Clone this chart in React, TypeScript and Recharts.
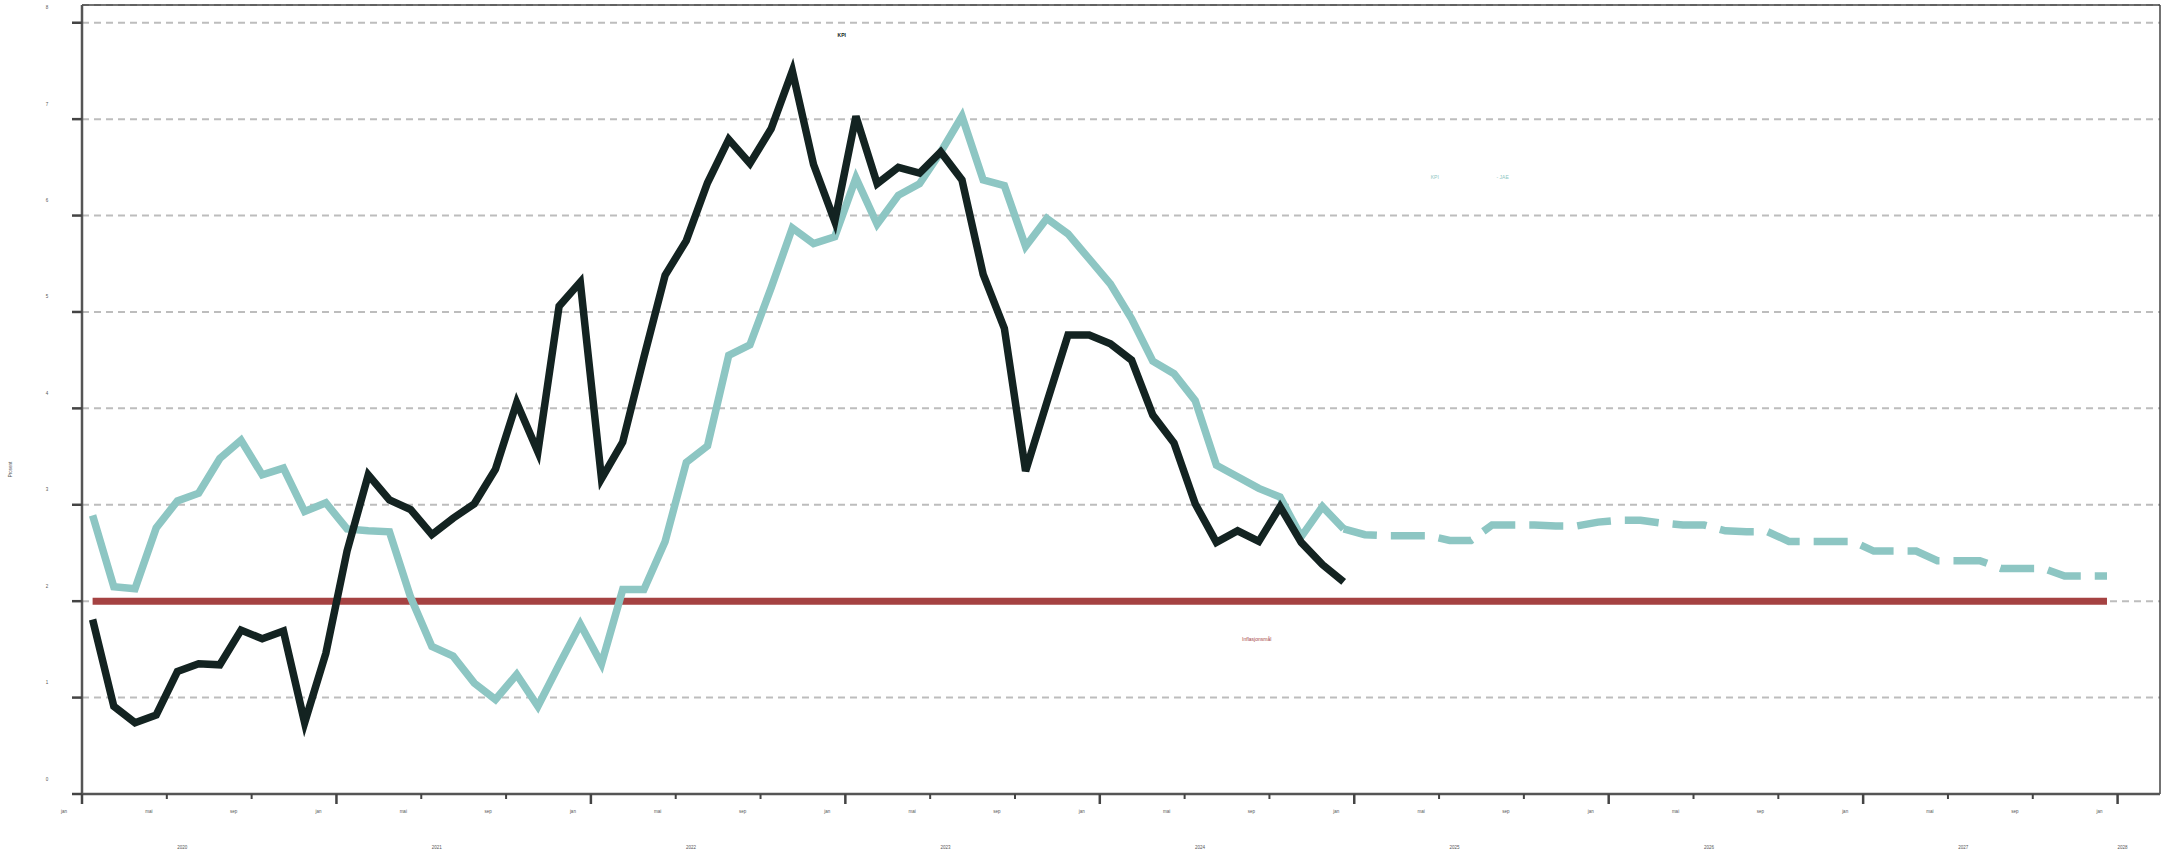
import { LineChart, Line, XAxis, YAxis, CartesianGrid, ReferenceLine, ReferenceDot } from "recharts";

// KPI og KPI-JAE, tolvmånedersvekst, jan 2020 – des 2024
const kpi = [
  1.81, 0.91, 0.74, 0.82, 1.27, 1.35, 1.34, 1.7, 1.61, 1.69, 0.74, 1.46,
  2.52, 3.31, 3.05, 2.95, 2.69, 2.86, 3.01, 3.37, 4.06, 3.55, 5.06, 5.31,
  3.27, 3.65, 4.53, 5.38, 5.74, 6.34, 6.79, 6.54, 6.9, 7.5, 6.53, 5.94,
  7.03, 6.33, 6.5, 6.44, 6.66, 6.37, 5.39, 4.83, 3.35, 4.06, 4.76, 4.76,
  4.67, 4.5, 3.93, 3.64, 3.01, 2.61, 2.73, 2.62, 2.98, 2.61, 2.38, 2.2,
];
const kpiJae = [
  2.89, 2.15, 2.13, 2.76, 3.04, 3.12, 3.48, 3.67, 3.31, 3.38, 2.93, 3.02,
  2.75, 2.73, 2.72, 2.04, 1.53, 1.43, 1.15, 0.98, 1.24, 0.91, 1.34, 1.76,
  1.35, 2.12, 2.12, 2.62, 3.44, 3.61, 4.55, 4.66, 5.25, 5.87, 5.71, 5.78,
  6.39, 5.91, 6.21, 6.33, 6.66, 7.03, 6.37, 6.31, 5.68, 5.97, 5.81, 5.55,
  5.29, 4.93, 4.49, 4.36, 4.08, 3.41, 3.29, 3.17, 3.08, 2.67, 2.98, 2.75,
];
// prognose KPI-JAE, des 2024 – des 2027
const forecastStart = 59;
const kpiJaeForecast = [
  2.75, 2.69, 2.68, 2.68, 2.68, 2.63, 2.63, 2.79, 2.79, 2.79, 2.78, 2.78,
  2.82, 2.84, 2.84, 2.81, 2.79, 2.79, 2.73, 2.72, 2.72, 2.62, 2.62, 2.62,
  2.62, 2.52, 2.52, 2.52, 2.42, 2.42, 2.42, 2.34, 2.34, 2.34, 2.26, 2.26,
  2.26,
];
const target = 2;
const targetFrom = 0.5;
const targetTo = 95.5;

const monthLabels = ["jan", "mai", "sep"];
const monthTicks = [
  0, 4, 8, 12, 16, 20, 24, 28, 32, 36, 40, 44, 48, 52, 56, 60, 64, 68, 72, 76, 80, 84, 88, 92, 96,
];
const yearLabels = ["2020", "2021", "2022", "2023", "2024", "2025", "2026", "2027", "2028"];
const yearTicks = [6, 18, 30, 42, 54, 66, 78, 90, 97.5];
const yTicks = [0, 1, 2, 3, 4, 5, 6, 7, 8];
const xMax = 98;
const yMax = 8.184;

const data = Array.from({ length: forecastStart + kpiJaeForecast.length }, (_, i) => ({
  t: i + 0.5,
  kpi: kpi[i],
  jae: kpiJae[i],
  forecast: i >= forecastStart ? kpiJaeForecast[i - forecastStart] : undefined,
}));

const DARK = "#132321";
const TEAL = "#8dc6c3";
const RED = "#a54242";

const MonthTick = ({ x, y, payload }: any) => {
  const v = payload.value;
  const major = v % 12 === 0;
  return (
    <g>
      <line x1={x} x2={x} y1={y} y2={y + (major ? 10 : 5)} stroke="#444" strokeWidth={major ? 2.5 : 2} />
      <text x={x - 18} y={y + 18.5} fontSize={4.5} fill="#555" textAnchor="middle">
        {monthLabels[(v % 12) / 4]}
      </text>
    </g>
  );
};

const YearTick = ({ x, y, index }: any) => (
  <text x={x - 27} y={y + 24.5} fontSize={4.5} fill="#555" textAnchor="middle">
    {yearLabels[index]}
  </text>
);

const ValueTick = ({ x, y, payload }: any) => (
  <g>
    <line x1={x - 10} x2={x} y1={y} y2={y} stroke="#444" strokeWidth={2.5} />
    <text x={x - 35} y={y - 13.5} fontSize={4.5} fill="#555" textAnchor="middle">
      {payload.value}
    </text>
  </g>
);

const AxisTitle = ({ viewBox }: any) => {
  const cx = viewBox.x + 12;
  const cy = viewBox.y + viewBox.height / 2 + 70;
  return (
    <text x={cx} y={cy} fontSize={4.5} fill="#555" textAnchor="middle" transform={`rotate(-90 ${cx} ${cy})`}>
      Prosent
    </text>
  );
};

export default function App() {
  return (
    <div style={{ position: "absolute", left: 0, top: 0 }}>
      <LineChart
        width={2170}
        height={852}
        data={data}
        margin={{ top: 5, right: 10, bottom: 0, left: 0 }}
        style={{ fontFamily: "Liberation Sans, Arial, sans-serif", background: "#fff" }}
      >
        <CartesianGrid vertical={false} stroke="#bdbdbd" strokeWidth={2} strokeDasharray="7 5" />
        <XAxis
          type="number"
          dataKey="t"
          domain={[0, xMax]}
          ticks={monthTicks}
          interval={0}
          height={30}
          tickSize={0}
          tickMargin={0}
          tickLine={false}
          axisLine={{ stroke: "#555", strokeWidth: 2.5 }}
          tick={<MonthTick />}
        />
        <XAxis
          xAxisId="year"
          type="number"
          dataKey="t"
          domain={[0, xMax]}
          ticks={yearTicks}
          interval={0}
          height={28}
          tickSize={0}
          tickMargin={0}
          tickLine={false}
          axisLine={false}
          tick={<YearTick />}
        />
        <YAxis
          type="number"
          domain={[0, yMax]}
          ticks={yTicks}
          interval={0}
          width={82}
          tickSize={0}
          tickMargin={0}
          tickLine={false}
          axisLine={{ stroke: "#555", strokeWidth: 2.5 }}
          tick={<ValueTick />}
          label={<AxisTitle />}
        />
        <ReferenceLine y={yMax} stroke="#444" strokeWidth={1.5} />
        <ReferenceLine x={xMax} stroke="#444" strokeWidth={1.5} />
        <ReferenceLine
          segment={[
            { x: targetFrom, y: target },
            { x: targetTo, y: target },
          ]}
          stroke={RED}
          strokeWidth={7}
        />
        <Line
          type="linear"
          dataKey="jae"
          stroke={TEAL}
          strokeWidth={7.5}
          dot={false}
          activeDot={false}
          isAnimationActive={false}
        />
        <Line
          type="linear"
          dataKey="forecast"
          stroke={TEAL}
          strokeWidth={7.5}
          strokeDasharray="34 14"
          dot={false}
          activeDot={false}
          isAnimationActive={false}
        />
        <Line
          type="linear"
          dataKey="kpi"
          stroke={DARK}
          strokeWidth={7.5}
          dot={false}
          activeDot={false}
          isAnimationActive={false}
        />
        <ReferenceDot x={35.83} y={7.87} r={0} label={{ value: "KPI", fill: DARK, fontSize: 5, fontWeight: 700, position: "center" }} />
        <ReferenceDot x={63.8} y={6.4} r={0} label={{ value: "KPI", fill: TEAL, fontSize: 5, position: "center" }} />
        <ReferenceDot x={67.0} y={6.4} r={0} label={{ value: "- JAE", fill: TEAL, fontSize: 5, position: "center" }} />
        <ReferenceDot x={55.4} y={1.61} r={0} label={{ value: "Inflasjonsmål", fill: RED, fontSize: 5, position: "center" }} />
      </LineChart>
    </div>
  );
}
